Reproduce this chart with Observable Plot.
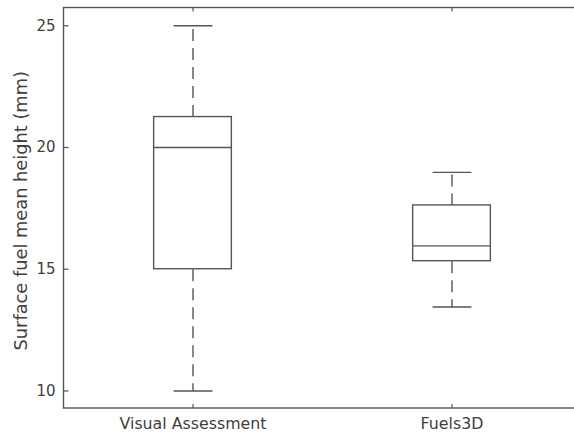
<!DOCTYPE html>
<html>
<head>
<meta charset="utf-8">
<script src="https://cdn.jsdelivr.net/npm/d3@7"></script>
<script src="https://cdn.jsdelivr.net/npm/@observablehq/plot@0.6"></script>
<style>
  html, body { margin: 0; padding: 0; background: #fff; }
  #chart svg { display: block; }
</style>
</head>
<body>
<div id="chart"></div>
<script>
// Data
const categories = ["Visual Assessment", "Fuels3D"];
const whiskerLow = [10, 13.45];
const q1 = [15, 15.33];
const median = [20, 15.96];
const q3 = [21.25, 17.62];
const whiskerHigh = [25, 18.98];
const yTicks = [10, 15, 20, 25];
const yLabel = "Surface fuel mean height (mm)";

const rows = categories.map((c, i) => ({
  cat: c, pos: i + 1,
  lo: whiskerLow[i], q1: q1[i], med: median[i], q3: q3[i], hi: whiskerHigh[i]
}));

const ink = "#555555";
const textInk = "#404040";
const boxHalf = 0.15;
const capHalf = 0.075;
const yDomain = [9.3, 25.75];
const xDomain = [0.5, 2.5];

const tickRight = { draw(ctx) { ctx.moveTo(0, 0); ctx.lineTo(5, 0); } };
const tickUp = { draw(ctx) { ctx.moveTo(0, 0); ctx.lineTo(0, -4); } };
const tickDown = { draw(ctx) { ctx.moveTo(0, 0); ctx.lineTo(0, 4); } };

const chart = Plot.plot({
  width: 574,
  height: 434,
  marginLeft: 63,
  marginRight: -7,
  marginTop: 7,
  marginBottom: 26.5,
  style: { fontFamily: "DejaVu Sans", color: textInk, background: "#fff", overflow: "hidden" },
  x: { domain: xDomain, axis: null },
  y: { domain: yDomain, axis: null },
  marks: [
    // whiskers (dashed)
    Plot.link(rows, { x1: "pos", x2: "pos", y1: "q3", y2: "hi", stroke: ink, strokeWidth: 1.4, strokeDasharray: "12,7" }),
    Plot.link(rows, { x1: "pos", x2: "pos", y1: "q1", y2: "lo", stroke: ink, strokeWidth: 1.4, strokeDasharray: "12,7" }),
    // caps
    Plot.link(rows, { x1: d => d.pos - capHalf, x2: d => d.pos + capHalf, y1: "hi", y2: "hi", stroke: ink, strokeWidth: 1.4 }),
    Plot.link(rows, { x1: d => d.pos - capHalf, x2: d => d.pos + capHalf, y1: "lo", y2: "lo", stroke: ink, strokeWidth: 1.4 }),
    // boxes
    Plot.rect(rows, { x1: d => d.pos - boxHalf, x2: d => d.pos + boxHalf, y1: "q1", y2: "q3", fill: "white", stroke: ink, strokeWidth: 1.4 }),
    // medians
    Plot.link(rows, { x1: d => d.pos - boxHalf, x2: d => d.pos + boxHalf, y1: "med", y2: "med", stroke: ink, strokeWidth: 1.4 }),
    // frame
    Plot.frame({ stroke: ink, strokeWidth: 1.4 }),
    // inward ticks
    Plot.dot(yTicks, { x: xDomain[0], y: d => d, symbol: tickRight, r: 5, stroke: ink, fill: "none", strokeWidth: 1.2 }),
    Plot.dot(rows, { x: "pos", y: yDomain[0], symbol: tickUp, r: 5, stroke: ink, fill: "none", strokeWidth: 1.2 }),
    Plot.dot(rows, { x: "pos", y: yDomain[1], symbol: tickDown, r: 5, stroke: ink, fill: "none", strokeWidth: 1.2 }),
    // tick labels
    Plot.text(yTicks, { x: xDomain[0], y: d => d, text: d => String(d), textAnchor: "end", dx: -8, fontSize: 15, fill: textInk }),
    Plot.text(rows, { x: "pos", y: yDomain[0], text: "cat", lineAnchor: "top", dy: 10, fontSize: 15.8, fill: textInk }),
    // y axis label
    Plot.text([yLabel], { frameAnchor: "left", text: d => d, rotate: -90, textAnchor: "middle", lineAnchor: "middle", dx: -42, dy: 3, fontSize: 17.8, fill: textInk })
  ]
});

document.getElementById("chart").appendChild(chart);
</script>
</body>
</html>
